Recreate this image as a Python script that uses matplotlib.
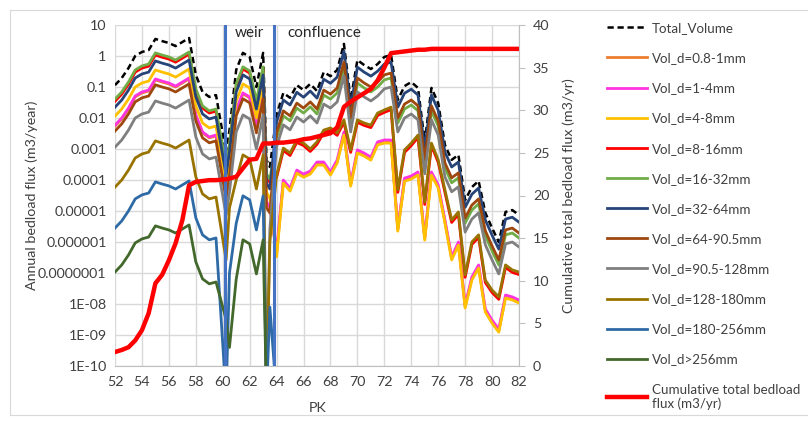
import numpy as np
import matplotlib
matplotlib.use('Agg')
import matplotlib.pyplot as plt
from matplotlib.lines import Line2D
from matplotlib.ticker import NullLocator
from matplotlib.patches import Rectangle

plt.rcParams['font.family'] = ['Lato', 'DejaVu Sans']

# PK positions (km)
pk = [52, 52.5, 53, 53.5, 54, 54.5, 55, 55.5, 56, 56.5, 57, 57.5, 58, 58.5, 59, 59.5,
      60.25, 60.5, 61, 61.5, 62, 62.5, 63, 63.25, 63.5,
      64, 64.5, 65, 65.5, 66, 66.5, 67, 67.5, 68, 68.5, 69, 69.5, 70, 70.5, 71, 71.5,
      72, 72.5, 73, 73.5, 74, 74.5, 75, 75.5, 76, 76.5, 77, 77.5, 78, 78.5, 79, 79.5,
      80, 80.5, 81, 81.5, 82]

# values stored as log10 of annual bedload flux (m3/year); None = no flux
total_log = [-0.94, -0.71, -0.39, 0.00, 0.13, 0.19, 0.55, 0.48, 0.42, 0.32, 0.45, 0.58, -0.61, -1.16, -1.32, -1.26,
             -3.13, -2.39, -0.45, 0.10, -0.03, -1.00, 0.10, -3.35, -3.58,
             -1.90, -1.19, -1.35, -0.94, -1.10, -0.90, -1.13, -0.52, -0.65, -0.45, 0.39, -1.42, -0.13, -0.29, -0.42, -0.26,
             -0.03, 0.03, -1.42, -0.97, -0.84, -1.03, -2.77, -1.03, -1.52, -2.87, -3.35, -3.19, -4.65, -4.23, -4.03, -5.06,
             -5.55, -6.00, -5.03, -4.97, -5.13]
d0_8_1_log = [-2.26, -2.03, -1.71, -1.32, -1.19, -1.13, -0.77, -0.84, -0.90, -1.00, -0.87, -0.74, -1.93, -2.48, -2.64, -2.58,
              -4.45, -3.71, -1.77, -1.22, -1.35, -2.32, -1.22, -4.73, -4.90,
              -6.36, -4.05, -4.31, -3.73, -3.86, -3.76, -3.47, -3.47, -3.79, -3.40, -2.50, -4.15, -3.08, -3.18, -3.31, -2.82,
              -2.76, -2.76, -5.60, -3.99, -3.92, -3.79, -5.89, -3.79, -4.21, -5.34, -6.53, -6.05, -8.08, -7.18, -6.79, -8.21,
              -8.57, -8.86, -7.76, -7.82, -7.92]
d1_4_log = [-2.23, -2.00, -1.68, -1.29, -1.16, -1.10, -0.74, -0.81, -0.87, -0.97, -0.84, -0.71, -1.90, -2.45, -2.61, -2.55,
            -4.42, -3.68, -1.74, -1.19, -1.32, -2.29, -1.19, -4.70, -4.87,
            -6.26, -4.00, -4.26, -3.68, -3.81, -3.71, -3.42, -3.42, -3.74, -3.35, -2.45, -4.10, -3.03, -3.13, -3.26, -2.77,
            -2.71, -2.71, -5.55, -3.94, -3.87, -3.74, -5.84, -3.74, -4.16, -5.29, -6.48, -6.00, -8.03, -7.13, -6.74, -8.16,
            -8.52, -8.81, -7.71, -7.77, -7.87]
d4_8_log = [-1.94, -1.71, -1.39, -1.00, -0.87, -0.81, -0.45, -0.52, -0.58, -0.68, -0.55, -0.42, -1.61, -2.16, -2.32, -2.26,
            -4.13, -3.39, -1.45, -0.90, -1.03, -2.00, -0.90, -4.40, -4.58,
            -6.48, -4.10, -4.36, -3.78, -3.91, -3.81, -3.52, -3.52, -3.84, -3.45, -2.55, -4.20, -3.13, -3.23, -3.36, -2.87,
            -2.81, -2.81, -5.65, -4.04, -3.97, -3.84, -5.94, -3.84, -4.26, -5.39, -6.58, -6.10, -8.13, -7.23, -6.84, -8.26,
            -8.62, -8.91, -7.81, -7.87, -7.97]
d8_16_log = [-1.46, -1.23, -0.91, -0.52, -0.39, -0.33, 0.03, -0.04, -0.10, -0.20, -0.07, 0.06, -1.13, -1.68, -1.84, -1.78,
             -3.65, -2.91, -0.97, -0.42, -0.55, -1.52, -0.42, -3.90, -4.08,
             -3.92, -3.05, -3.21, -2.79, -2.89, -3.08, -2.85, -2.47, -2.40, -2.56, -2.14, -3.11, -2.14, -2.24, -2.31, -1.92,
             -1.82, -1.73, -4.40, -3.11, -2.89, -2.63, -4.79, -2.89, -3.43, -4.40, -5.37, -5.11, -7.14, -6.08, -5.85, -7.31,
             -7.63, -7.85, -6.82, -6.98, -7.05]
d16_32_log = [-1.39, -1.16, -0.84, -0.45, -0.32, -0.26, 0.10, 0.03, -0.03, -0.13, 0.00, 0.13, -1.06, -1.61, -1.77, -1.71,
              -3.58, -2.84, -0.90, -0.35, -0.48, -1.45, -0.35, -3.80, -3.98,
              -2.64, -1.93, -2.09, -1.68, -1.84, -1.64, -1.87, -1.26, -1.39, -1.19, -0.35, -2.16, -0.87, -1.03, -1.16, -1.00,
              -0.77, -0.71, -2.16, -1.71, -1.58, -1.77, -3.51, -1.77, -2.26, -3.61, -4.09, -3.93, -5.39, -4.97, -4.77, -5.80,
              -6.29, -6.74, -5.77, -5.71, -5.87]
d32_64_log = [-1.65, -1.42, -1.10, -0.71, -0.58, -0.52, -0.16, -0.23, -0.29, -0.39, -0.26, -0.13, -1.32, -1.87, -2.03, -1.97,
              -3.84, -3.10, -1.16, -0.61, -0.74, -1.71, -0.61, -4.10, -4.29,
              -2.13, -1.42, -1.58, -1.17, -1.33, -1.13, -1.36, -0.75, -0.88, -0.68, 0.16, -1.65, -0.36, -0.52, -0.65, -0.49,
              -0.26, -0.20, -1.65, -1.20, -1.07, -1.26, -3.00, -1.26, -1.75, -3.10, -3.58, -3.42, -4.88, -4.46, -4.26, -5.29,
              -5.78, -6.23, -5.26, -5.20, -5.36]
d64_90_log = [-2.42, -2.19, -1.87, -1.48, -1.35, -1.29, -0.93, -1.00, -1.06, -1.16, -1.03, -0.90, -2.09, -2.64, -2.80, -2.74,
              -4.61, -3.87, -1.93, -1.38, -1.51, -2.48, -1.38, -4.90, -5.06,
              -2.48, -1.77, -1.93, -1.52, -1.68, -1.48, -1.71, -1.10, -1.23, -1.03, -0.19, -2.00, -0.71, -0.87, -1.00, -0.84,
              -0.61, -0.55, -2.00, -1.55, -1.42, -1.61, -3.35, -1.61, -2.10, -3.45, -3.93, -3.77, -5.23, -4.81, -4.61, -5.64,
              -6.13, -6.58, -5.61, -5.55, -5.71]
d90_128_log = [-2.94, -2.71, -2.39, -2.00, -1.87, -1.81, -1.45, -1.52, -1.58, -1.68, -1.55, -1.42, -2.61, -3.16, -3.32, -3.26,
               -5.13, -4.39, -2.45, -1.90, -2.03, -3.00, -1.90, -11.0, -5.58,
               -2.93, -2.22, -2.38, -1.97, -2.13, -1.93, -2.16, -1.55, -1.68, -1.48, -0.64, -2.45, -1.16, -1.32, -1.45, -1.29,
               -1.06, -1.00, -2.45, -2.00, -1.87, -2.06, -3.80, -2.06, -2.55, -3.90, -4.38, -4.22, -5.68, -5.26, -5.06, -6.09,
               -6.58, -7.03, -6.06, -6.00, -6.16]
d128_180_log = [-4.23, -4.00, -3.68, -3.29, -3.16, -3.10, -2.74, -2.81, -2.87, -2.97, -2.84, -2.71, -3.90, -4.45, -4.61, -4.55,
                -6.58, -4.90, -4.00, -3.19, -3.32, -4.29, -3.19, -11.0, -6.00,
                -3.84, -2.97, -3.13, -2.71, -2.81, -3.00, -2.77, -2.39, -2.32, -2.48, -2.06, -3.03, -2.06, -2.16, -2.23, -1.84,
                -1.74, -1.65, -4.32, -3.03, -2.81, -2.55, -4.71, -2.81, -3.35, -4.32, -5.29, -5.03, -7.06, -6.00, -5.77, -7.23,
                -7.55, -7.77, -6.74, -6.90, -6.97]
d180_256_log = [-5.55, -5.32, -5.00, -4.61, -4.48, -4.42, -4.06, -4.13, -4.19, -4.29, -4.16, -4.03, -5.22, -5.77, -5.93, -5.87,
                -11.0, -7.00, -5.40, -4.51, -4.64, -5.61, -4.51, -11.0, -8.10,
                -11.0] + [None] * 36
d256_log = [-6.97, -6.74, -6.42, -6.03, -5.90, -5.84, -5.48, -5.55, -5.61, -5.71, -5.58, -5.45, -6.64, -7.19, -7.35, -7.29,
            -8.50, -9.40, -7.20, -5.93, -6.06, -7.03, -5.93, -11.0, -11.0,
            -11.0] + [None] * 36

# cumulative total bedload flux (m3/yr), right axis
cumulative = [1.64, 1.88, 2.2, 3.0, 4.2, 6.2, 9.7, 10.7, 12.4, 14.4, 17.1, 21.2, 21.6, 21.7, 21.8, 21.8,
              21.9, 22.0, 22.2, 23.2, 24.2, 24.3, 26.1, 26.1, 26.1,
              26.2, 26.2, 26.3, 26.4, 26.6, 26.7, 26.9, 27.1, 27.3, 28.0, 30.4, 31.0, 31.5, 32.0, 32.5, 33.5,
              35.0, 36.7, 36.8, 36.9, 37.0, 37.1, 37.1, 37.2, 37.2, 37.2, 37.2, 37.2, 37.2, 37.2, 37.2, 37.2,
              37.2, 37.2, 37.2, 37.2, 37.2]

weir_pk = 60.2
confluence_pk = 63.8

series = [
    ('Total_Volume', total_log, 'black', '--'),
    ('Vol_d=0.8-1mm', d0_8_1_log, '#ED7D31', '-'),
    ('Vol_d=1-4mm', d1_4_log, '#FF33E0', '-'),
    ('Vol_d=4-8mm', d4_8_log, '#FFC000', '-'),
    ('Vol_d=8-16mm', d8_16_log, '#FF0000', '-'),
    ('Vol_d=16-32mm', d16_32_log, '#70AD47', '-'),
    ('Vol_d=32-64mm', d32_64_log, '#264478', '-'),
    ('Vol_d=64-90.5mm', d64_90_log, '#9E480E', '-'),
    ('Vol_d=90.5-128mm', d90_128_log, '#7F7F7F', '-'),
    ('Vol_d=128-180mm', d128_180_log, '#997300', '-'),
    ('Vol_d=180-256mm', d180_256_log, '#2E6AA6', '-'),
    ('Vol_d>256mm', d256_log, '#43682B', '-'),
]

FS = 10.3
FSL = 9.6
W, H = 808, 421
fig = plt.figure(figsize=(W / 100, H / 100), dpi=100)
fig.patches.append(Rectangle((10 / W, 6 / H), 1.2, 1 - 16 / H, transform=fig.transFigure,
                             fill=False, edgecolor='#D9D9D9', lw=0.8))

ax = fig.add_axes([115 / W, 1 - 366 / H, 404 / W, 341 / H])
ax.set_yscale('log')
ax.set_xlim(52, 82)
ax.set_ylim(1e-10, 10)

x = np.array(pk, dtype=float)
handles = []
for name, vals, col, ls in series:
    v = np.array(vals, dtype=float)
    y = 10.0 ** v
    if ls == '--':
        ax.plot(x, y, color=col, lw=1.8, ls=(0, (2.5, 1.5)), zorder=3)
    else:
        ax.plot(x, y, color=col, lw=2.0, zorder=3)
    handles.append(Line2D([], [], color=col, lw=1.8 if ls == '--' else 2.0,
                          ls=(0, (2.5, 1.5)) if ls == '--' else '-', label=name))

ax.set_yticks([10.0 ** k for k in range(-10, 2)])
ax.set_yticklabels(['1E-10', '1E-09', '1E-08', '0.0000001', '0.000001', '0.00001', '0.0001',
                    '0.001', '0.01', '0.1', '1', '10'])
ax.yaxis.set_minor_locator(NullLocator())
ax.set_xticks(list(range(52, 83, 2)))
ax.grid(True, color='#D9D9D9', lw=1.0, zorder=0)
ax.set_axisbelow(True)
for s in ['left', 'top', 'right']:
    ax.spines[s].set_visible(False)
ax.spines['bottom'].set_color('#BFBFBF')
ax.tick_params(axis='both', length=0, labelsize=FS, colors='#404040', pad=6)
ax.tick_params(axis='x', pad=7)

ax.set_ylabel('Annual bedload flux (m3/year)', fontsize=FS, color='#404040')
ax.yaxis.set_label_coords(-0.19, 0.5)
ax.set_xlabel('PK', fontsize=FS, color='#404040')
ax.xaxis.set_label_coords(0.502, -0.105)

ax.text(60.9, 10 ** 0.74, 'weir', fontsize=11, color='#262626', va='center', ha='left', zorder=6)
ax.text(64.8, 10 ** 0.74, 'confluence', fontsize=11, color='#262626', va='center', ha='left', zorder=6)

ax2 = ax.twinx()
ax2.set_ylim(0, 40)
ax2.set_xlim(52, 82)
ax2.set_yticks(list(range(0, 41, 5)))
for s in ['left', 'top', 'bottom']:
    ax2.spines[s].set_visible(False)
ax2.spines['right'].set_color('#BFBFBF')
ax2.tick_params(axis='y', length=4, color='#BFBFBF', labelsize=FS, labelcolor='#404040', pad=6)
ax2.axvline(weir_pk, color='#4472C4', lw=2.2, zorder=2)
ax2.axvline(confluence_pk, color='#4472C4', lw=2.2, zorder=2)
ax2.plot(x, cumulative, color='#FF0000', lw=3.2, zorder=4)
handles.append(Line2D([], [], color='#FF0000', lw=3.2, label='Cumulative total bedload\nflux (m3/yr)'))
ax2.set_ylabel('Cumulative total bedload flux (m3/yr)', fontsize=FS, color='#404040')
ax2.yaxis.set_label_coords(1.108, 0.5)

leg = fig.legend(handles=handles, loc='upper left', bbox_to_anchor=(607 / W, 1 - 22 / H),
                 frameon=False, fontsize=FSL, handlelength=3.0, handletextpad=0.38,
                 labelspacing=1.36, borderaxespad=0, borderpad=0)
for t in leg.get_texts():
    t.set_color('#404040')

fig.savefig('out.png', dpi=100)
